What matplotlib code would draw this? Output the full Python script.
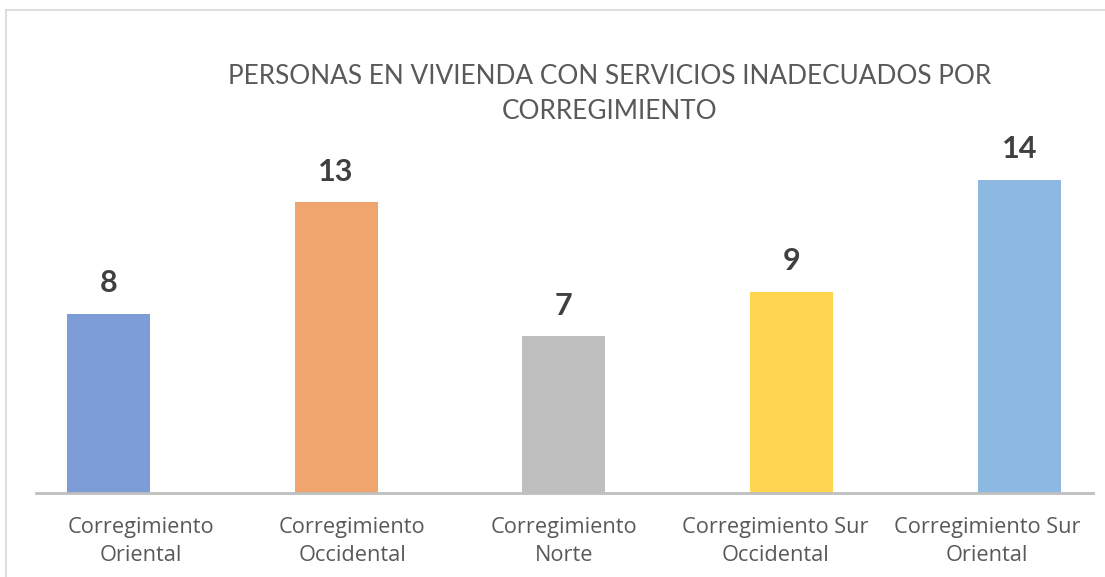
import matplotlib
matplotlib.use("Agg")
import matplotlib.pyplot as plt
from matplotlib.lines import Line2D

categories = ["Corregimiento\nOriental", "Corregimiento\nOccidental", "Corregimiento\nNorte",
              "Corregimiento Sur\nOccidental", "Corregimiento Sur\nOriental"]
values = [8, 13, 7, 9, 14]
colors = ["#7C9DD6", "#F0A56E", "#BFBFBF", "#FFD44F", "#8DB8E2"]
title = "PERSONAS EN VIVIENDA CON SERVICIOS INADECUADOS POR\nCORREGIMIENTO"

W, H = 1105, 577
fig = plt.figure(figsize=(W / 100, H / 100), dpi=100)
plt.rcParams['font.family'] = ['Lato', 'DejaVu Sans']

ax_h = 16 * 22.37
ax = fig.add_axes([36 / W, 84 / H, (1093 - 36) / W, ax_h / H])
x = list(range(len(values)))
bars = ax.bar(x, values, width=0.364, color=colors, zorder=2)
ax.set_xlim(-0.318, 4.324)
ax.set_ylim(0, 16)
for s in ["top", "right", "left"]:
    ax.spines[s].set_visible(False)
ax.spines["bottom"].set_color("#BFBFBF")
ax.spines["bottom"].set_linewidth(2)
ax.set_yticks([])
# category labels sit slightly compressed toward the centre, as in the source
mid = (len(values) - 1) / 2
label_pos = [mid + (i - mid) * 0.929 for i in x]
ax.set_xticks(label_pos)
ax.set_xticklabels(categories, fontsize=15.7, color="#595959", linespacing=1.45,
                   family=["Open Sans", "DejaVu Sans"])
ax.tick_params(axis="x", length=0, pad=17)
for xi, v in zip(x, values):
    ax.annotate(str(v), (xi, v), xytext=(0, 12), textcoords="offset points",
                ha="center", va="bottom", fontsize=22, fontweight="bold", color="#404040")

fig.text(610 / W, 1 - 64 / H, title, ha="center", va="top", fontsize=18.8,
         color="#595959", linespacing=1.5)

fig.add_artist(Line2D([6 / W, 6 / W], [0, 1 - 10 / H], transform=fig.transFigure,
                      color="#D9D9D9", lw=1.2))
fig.add_artist(Line2D([6 / W, 1], [1 - 10 / H, 1 - 10 / H], transform=fig.transFigure,
                      color="#D9D9D9", lw=1.2))

fig.savefig("out.png", dpi=100, facecolor="white")
